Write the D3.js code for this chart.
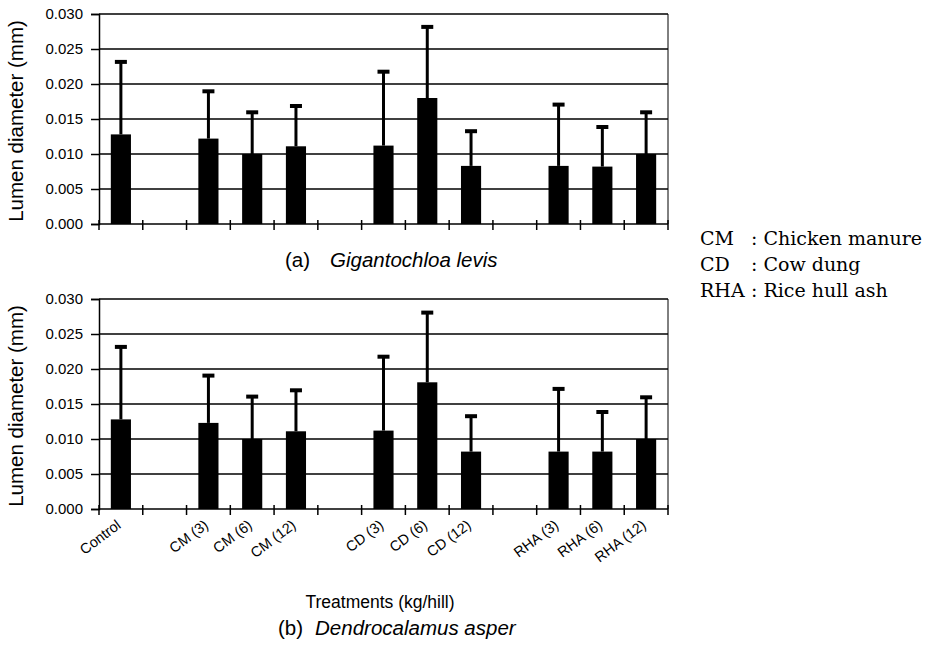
<!DOCTYPE html>
<html>
<head>
<meta charset="utf-8">
<script src="https://cdn.jsdelivr.net/npm/d3@7"></script>
<style>
body { margin: 0; background: #fff; }
text { font-family: Arial, "Liberation Sans", sans-serif; fill: #000; }
</style>
</head>
<body>
<svg></svg>
<script>
// treatment slots, blanks are the gaps between groups
var categories = ["Control", "", "CM (3)", "CM (6)", "CM (12)", "", "CD (3)", "CD (6)", "CD (12)", "", "RHA (3)", "RHA (6)", "RHA (12)"];

// (a) Gigantochloa levis
var levisMean = [0.0128, null, 0.0122, 0.0100, 0.0111, null, 0.0112, 0.0180, 0.0083, null, 0.0083, 0.0082, 0.0100];
var levisSD   = [0.0105, null, 0.0069, 0.0061, 0.0059, null, 0.0107, 0.0103, 0.0051, null, 0.0089, 0.0058, 0.0061];

// (b) Dendrocalamus asper
var asperMean = [0.0128, null, 0.0123, 0.0100, 0.0111, null, 0.0112, 0.0181, 0.0082, null, 0.0082, 0.0082, 0.0100];
var asperSD   = [0.0105, null, 0.0069, 0.0062, 0.0060, null, 0.0107, 0.0101, 0.0052, null, 0.0091, 0.0058, 0.0061];

var yTicks = [0, 0.005, 0.010, 0.015, 0.020, 0.025, 0.030];

var legendAbbr = ["CM", "CD", "RHA"];
var legendText = ["Chicken manure", "Cow dung", "Rice hull ash"];

var width = 943, height = 649;
var left = 99, right = 668, plotH = 210;

var svg = d3.select("svg").attr("width", width).attr("height", height);

var x = d3.scaleBand()
	.domain(d3.range(categories.length))
	.range([left, right])
	.padding(0);
var barW = x.bandwidth() * 0.46;

function panel(top, means, sds, showLabels) {
	var y = d3.scaleLinear().domain([0, 0.03]).range([top + plotH, top]);
	var g = svg.append("g");

	// gridlines
	g.selectAll("line.grid").data(yTicks.slice(1)).enter().append("line")
		.attr("x1", left).attr("x2", right)
		.attr("y1", function(d){ return y(d); }).attr("y2", function(d){ return y(d); })
		.attr("stroke", "#000").attr("stroke-width", 1.5);

	// right border
	g.append("line")
		.attr("x1", right).attr("x2", right)
		.attr("y1", y(0.03)).attr("y2", y(0))
		.attr("stroke", "#000").attr("stroke-width", 1);

	// y axis
	var yAxis = g.append("g")
		.attr("transform", "translate(" + left + ",0)")
		.call(d3.axisLeft(y).tickValues(yTicks).tickFormat(d3.format(".3f")).tickSize(8).tickPadding(8));
	yAxis.select(".domain").attr("stroke-width", 1.5);
	yAxis.selectAll(".tick line").attr("stroke-width", 1.5);
	yAxis.selectAll(".tick text").style("font-size", "15px").attr("font-family", null);

	g.append("text")
		.attr("transform", "translate(23," + (top + plotH / 2 + 2) + ") rotate(-90)")
		.attr("text-anchor", "middle")
		.style("font-size", "20.5px")
		.text("Lumen diameter (mm)");

	// bars
	var idx = d3.range(categories.length).filter(function(i){ return means[i] != null; });
	g.selectAll("rect.bar").data(idx).enter().append("rect")
		.attr("x", function(i){ return x(i) + (x.bandwidth() - barW) / 2; })
		.attr("width", barW)
		.attr("y", function(i){ return y(means[i]); })
		.attr("height", function(i){ return y(0) - y(means[i]); })
		.attr("fill", "#000");

	// error bars (upper)
	g.selectAll("line.err").data(idx).enter().append("line")
		.attr("x1", function(i){ return x(i) + x.bandwidth() / 2; })
		.attr("x2", function(i){ return x(i) + x.bandwidth() / 2; })
		.attr("y1", function(i){ return y(means[i]); })
		.attr("y2", function(i){ return y(means[i] + sds[i]); })
		.attr("stroke", "#000").attr("stroke-width", 3);
	g.selectAll("rect.cap").data(idx).enter().append("rect")
		.attr("x", function(i){ return x(i) + x.bandwidth() / 2 - 6; })
		.attr("width", 12)
		.attr("y", function(i){ return y(means[i] + sds[i]) - 1; })
		.attr("height", 4)
		.attr("fill", "#000");

	// x axis with cross ticks between slots
	g.append("line")
		.attr("x1", left).attr("x2", right)
		.attr("y1", y(0)).attr("y2", y(0))
		.attr("stroke", "#000").attr("stroke-width", 1.5);
	g.selectAll("line.xt").data(d3.range(categories.length + 1)).enter().append("line")
		.attr("x1", function(i){ return left + i * x.step(); })
		.attr("x2", function(i){ return left + i * x.step(); })
		.attr("y1", y(0) - 4).attr("y2", y(0) + 6)
		.attr("stroke", "#000").attr("stroke-width", 1.5);

	if (showLabels) {
		g.selectAll("text.xl").data(idx).enter().append("text")
			.attr("text-anchor", "end")
			.attr("transform", function(i){
				return "translate(" + (x(i) + x.bandwidth() / 2 + 1) + "," + (y(0) + 18) + ") rotate(-37)";
			})
			.style("font-size", "14.5px")
			.text(function(i){ return categories[i]; });
	}
}

panel(14, levisMean, levisSD, false);
panel(299, asperMean, asperSD, true);

function caption(xPos, yPos, gap, tag, name) {
	var t = svg.append("text").attr("x", xPos).attr("y", yPos).style("font-size", "20.5px");
	t.append("tspan").text(tag);
	t.append("tspan").attr("dx", gap).style("font-style", "italic").text(name);
}
caption(285, 267, 20, "(a)", "Gigantochloa levis");

svg.append("text")
	.attr("x", 380).attr("y", 608)
	.attr("text-anchor", "middle")
	.style("font-size", "17.5px")
	.text("Treatments (kg/hill)");
caption(278, 635, 12, "(b)", "Dendrocalamus asper");

// legend
var leg = svg.append("g")
	.style("font-size", "19px")
	.style("font-family", "'DejaVu Serif', 'Liberation Serif', serif");
leg.selectAll("text.ab").data(legendAbbr).enter().append("text")
	.attr("x", 700).attr("y", function(d, i){ return 245 + i * 26; })
	.style("font-family", "inherit")
	.text(function(d){ return d; });
leg.selectAll("text.lt").data(legendText).enter().append("text")
	.attr("x", 751).attr("y", function(d, i){ return 245 + i * 26; })
	.style("font-family", "inherit")
	.text(function(d){ return ": " + d; });
</script>
</body>
</html>
